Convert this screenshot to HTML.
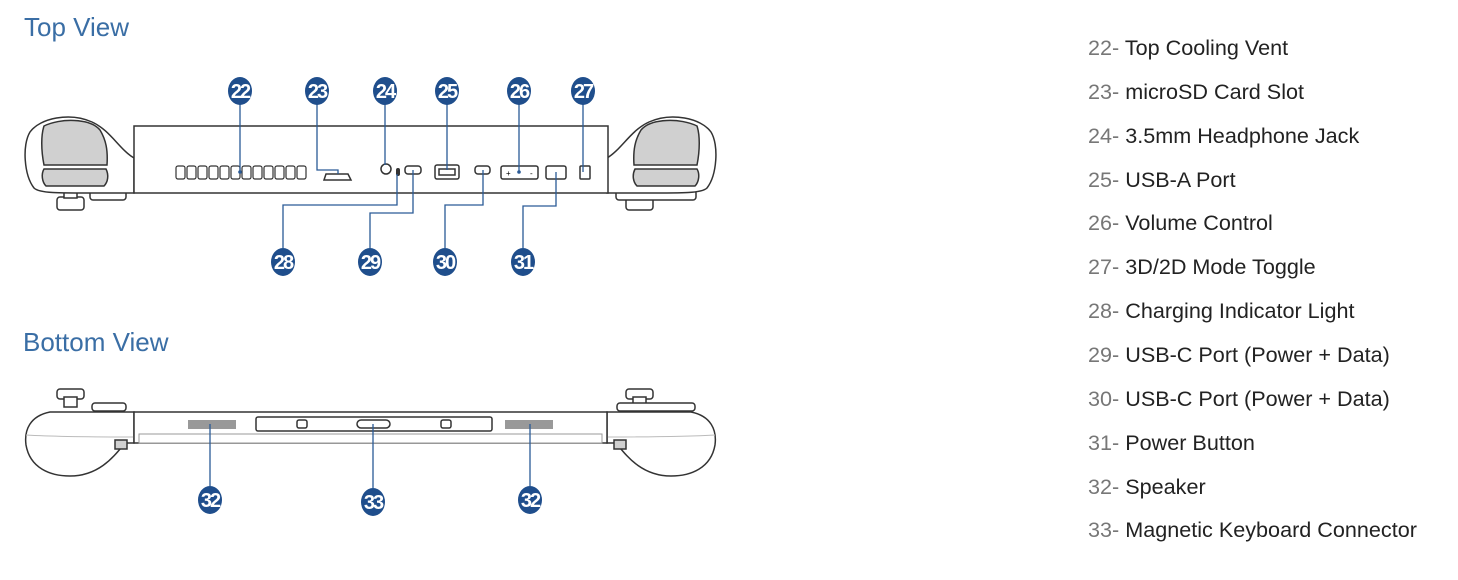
<!DOCTYPE html>
<html><head><meta charset="utf-8"><style>
html,body{margin:0;padding:0;background:#fff;width:1458px;height:580px;overflow:hidden}
svg{display:block}
.t{font-family:"Liberation Sans",sans-serif;fill:#222;font-size:21.6px}
.n{fill:#777}
.h{font-family:"Liberation Sans",sans-serif;fill:#3a6ea5;font-size:26px}
.bn{font-family:"Liberation Sans",sans-serif;fill:#fff;font-size:20px;font-weight:bold;text-anchor:middle;letter-spacing:-2px}
.o{fill:#fff;stroke:#333;stroke-width:1.5}
.g{fill:#d0d0d0;stroke:#333;stroke-width:1.5}
.l{fill:none;stroke:#2a5a96;stroke-width:1.3}
</style></head><body>
<svg width="1458" height="580" viewBox="0 0 1458 580">
<text class="h" x="24" y="36">Top View</text>
<text class="h" x="23" y="351">Bottom View</text>

<rect class="o" x="57" y="197" width="27" height="13" rx="3"/>
<rect class="o" x="64" y="188" width="13" height="10"/>
<rect class="o" x="90" y="190" width="36" height="10" rx="3"/>
<rect class="o" x="626" y="197" width="27" height="13" rx="3"/>
<rect class="o" x="633" y="188" width="13" height="10"/>
<rect class="o" x="616" y="190" width="80" height="10" rx="3"/>
<path class="o" d="M134,158 C120,150 110,130 92,122 C70,112 40,118 30,132 C22,145 24,175 34,188 C40,194 60,193 134,193 Z"/>
<path class="g" d="M44,126 C60,118 90,118 100,130 C106,140 108,150 107,165 L44,165 C41,150 41,135 44,126 Z"/>
<path class="g" d="M44,169 L106,169 C109,175 108,182 104,186 L46,186 C42,182 41,174 44,169 Z"/>
<path class="o" d="M607,158 C621,150 631,130 649,122 C671,112 701,118 711,132 C719,145 717,175 707,188 C701,194 681,193 607,193 Z"/>
<path class="g" d="M697,126 C681,118 651,118 641,130 C635,140 633,150 634,165 L697,165 C700,150 700,135 697,126 Z"/>
<path class="g" d="M697,169 L635,169 C632,175 633,182 637,186 L695,186 C699,182 700,174 697,169 Z"/>
<rect class="o" x="134" y="126" width="474" height="67"/>
<g fill="#fff" stroke="#333" stroke-width="1.2">
<rect x="176" y="166" width="9" height="13" rx="2"/><rect x="187" y="166" width="9" height="13" rx="2"/>
<rect x="198" y="166" width="9" height="13" rx="2"/><rect x="209" y="166" width="9" height="13" rx="2"/>
<rect x="220" y="166" width="9" height="13" rx="2"/><rect x="231" y="166" width="9" height="13" rx="2"/>
<rect x="242" y="166" width="9" height="13" rx="2"/><rect x="253" y="166" width="9" height="13" rx="2"/>
<rect x="264" y="166" width="9" height="13" rx="2"/><rect x="275" y="166" width="9" height="13" rx="2"/>
<rect x="286" y="166" width="9" height="13" rx="2"/><rect x="297" y="166" width="9" height="13" rx="2"/>
</g>
<path class="o" d="M324,180 L326,174 L348,174 L351,180 Z"/>
<circle class="o" cx="386" cy="169" r="5"/>
<rect x="396" y="168" width="4" height="8" rx="2" fill="#333"/>
<rect class="o" x="405" y="166" width="16" height="8" rx="3"/>
<rect class="o" x="435" y="165" width="24" height="14" rx="2"/>
<rect class="o" x="439" y="169" width="16" height="6"/>
<rect class="o" x="475" y="166" width="15" height="8" rx="3"/>
<rect class="o" x="501" y="166" width="37" height="13" rx="2"/>
<text x="506" y="176" font-size="8" font-family="Liberation Sans">+</text><text x="530" y="176" font-size="8" font-family="Liberation Sans">-</text>
<rect class="o" x="546" y="166" width="20" height="13" rx="2"/>
<rect class="o" x="580" y="166" width="10" height="13" rx="1"/>
<path class="l" d="M240,104 V173"/>
<circle cx="240" cy="172" r="1.8" fill="#2a5a96"/>
<path class="l" d="M317,104 V170 H338 V174"/>
<path class="l" d="M385,104 V165"/>
<path class="l" d="M447,104 V170"/>
<path class="l" d="M519,104 V172"/>
<circle cx="519" cy="172" r="1.8" fill="#2a5a96"/>
<path class="l" d="M583,104 V172"/>
<path class="l" d="M397,174 V205 H283 V248"/>
<path class="l" d="M413,170 V213 H370 V248"/>
<path class="l" d="M483,170 V205 H445 V248"/>
<path class="l" d="M556,172 V206 H523 V248"/>
<g fill="#1f4e8c">
<ellipse cx="240" cy="91" rx="12" ry="14"/><ellipse cx="317" cy="91" rx="12" ry="14"/>
<ellipse cx="385" cy="91" rx="12" ry="14"/><ellipse cx="447" cy="91" rx="12" ry="14"/>
<ellipse cx="519" cy="91" rx="12" ry="14"/><ellipse cx="583" cy="91" rx="12" ry="14"/>
<ellipse cx="283" cy="262" rx="12" ry="14"/><ellipse cx="370" cy="262" rx="12" ry="14"/>
<ellipse cx="445" cy="262" rx="12" ry="14"/><ellipse cx="523" cy="262" rx="12" ry="14"/>
<ellipse cx="210" cy="500" rx="12" ry="14"/><ellipse cx="373" cy="502" rx="12" ry="14"/>
<ellipse cx="530" cy="500" rx="12" ry="14"/>
</g>
<g class="bn">
<text x="240" y="98">22</text><text x="317" y="98">23</text><text x="385" y="98">24</text>
<text x="447" y="98">25</text><text x="519" y="98">26</text><text x="583" y="98">27</text>
<text x="283" y="269">28</text><text x="370" y="269">29</text><text x="445" y="269">30</text>
<text x="523" y="269">31</text><text x="210" y="507">32</text><text x="373" y="509">33</text>
<text x="530" y="507">32</text>
</g>

<rect class="o" x="57" y="389" width="27" height="10" rx="3"/>
<rect class="o" x="64" y="397" width="13" height="10"/>
<rect class="o" x="92" y="403" width="34" height="8" rx="3"/>
<rect class="o" x="626" y="389" width="27" height="10" rx="3"/>
<rect class="o" x="633" y="397" width="13" height="10"/>
<rect class="o" x="617" y="403" width="78" height="8" rx="3"/>
<path class="o" d="M134,412 L50,412 C30,416 24,430 26,445 C30,468 50,476 70,476 C100,476 115,455 125,443 L134,443 Z"/>
<path d="M26,435 C60,437 100,437 134,437" fill="none" stroke="#bbb" stroke-width="1"/>
<path class="o" d="M607,412 L691,412 C711,416 717,430 715,445 C711,468 691,476 671,476 C641,476 626,455 616,443 L607,443 Z"/>
<path d="M715,435 C681,437 641,437 607,437" fill="none" stroke="#bbb" stroke-width="1"/>
<rect class="g" x="115" y="440" width="12" height="9"/>
<rect class="g" x="614" y="440" width="12" height="9"/>
<rect class="o" x="134" y="412" width="473" height="31"/>
<rect x="139" y="434" width="463" height="9" fill="#fff" stroke="#999" stroke-width="1"/>
<rect x="188" y="420" width="48" height="9" fill="#999"/>
<rect x="505" y="420" width="48" height="9" fill="#999"/>
<rect class="o" x="256" y="417" width="236" height="14" rx="2"/>
<rect class="o" x="297" y="420" width="10" height="8" rx="2"/>
<rect class="o" x="441" y="420" width="10" height="8" rx="2"/>
<rect class="o" x="357" y="420" width="33" height="8" rx="4"/>
<path class="l" d="M210,424 V486"/>
<path class="l" d="M373,424 V488"/>
<path class="l" d="M530,424 V486"/>

<g class="t">
<text x="1088" y="55"><tspan class="n">22-</tspan> Top Cooling Vent</text>
<text x="1088" y="99"><tspan class="n">23-</tspan> microSD Card Slot</text>
<text x="1088" y="143"><tspan class="n">24-</tspan> 3.5mm Headphone Jack</text>
<text x="1088" y="187"><tspan class="n">25-</tspan> USB-A Port</text>
<text x="1088" y="230"><tspan class="n">26-</tspan> Volume Control</text>
<text x="1088" y="274"><tspan class="n">27-</tspan> 3D/2D Mode Toggle</text>
<text x="1088" y="318"><tspan class="n">28-</tspan> Charging Indicator Light</text>
<text x="1088" y="362"><tspan class="n">29-</tspan> USB-C Port (Power + Data)</text>
<text x="1088" y="406"><tspan class="n">30-</tspan> USB-C Port (Power + Data)</text>
<text x="1088" y="450"><tspan class="n">31-</tspan> Power Button</text>
<text x="1088" y="494"><tspan class="n">32-</tspan> Speaker</text>
<text x="1088" y="537"><tspan class="n">33-</tspan> Magnetic Keyboard Connector</text>
</g>
</svg>
</body></html>
